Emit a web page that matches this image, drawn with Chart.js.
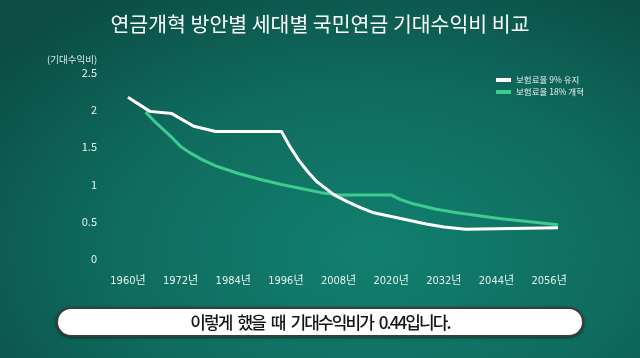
<!DOCTYPE html>
<html>
<head>
<meta charset="utf-8">
<script src="https://cdn.jsdelivr.net/npm/chart.js@4/dist/chart.umd.min.js"></script>
<style>
  html, body { margin: 0; padding: 0; }
  body {
    width: 640px; height: 358px; overflow: hidden; position: relative;
    background: radial-gradient(ellipse 75% 85% at 58% 70%, #12806f 0%, #0f6b5e 55%, #0b4d45 100%);
  }
  #wrap { position: absolute; left: 0; top: 0; width: 640px; height: 358px; }
  #caption {
    position: absolute; left: 56px; top: 307px; width: 524px; height: 26px;
    background: #fff; border: 2px solid #3c3c3c; border-radius: 15px;
    box-shadow: 0 1px 3px rgba(0,0,0,0.5);
    font: 500 17px "Noto Sans CJK KR", sans-serif; letter-spacing: -1.9px; word-spacing: 4px;
    color: #151515; text-align: center; line-height: 26px;
  }
</style>
</head>
<body>
<div id="wrap"><canvas id="chart" width="640" height="358"></canvas></div>
<div id="caption">이렇게 했을 때 기대수익비가 0.44입니다.</div>
<script>
const titleText = '연금개혁 방안별 세대별 국민연금 기대수익비 비교';
const unitText = '(기대수익비)';
const xTicks = [1960, 1972, 1984, 1996, 2008, 2020, 2032, 2044, 2056];
const yTicks = [0, 0.5, 1, 1.5, 2, 2.5];

// 보험료율 9% 유지
const keepYears = [1960, 1965, 1970, 1975, 1980, 1995, 1997, 1999, 2001, 2003, 2005, 2007, 2010, 2013, 2016, 2020, 2024, 2028, 2032, 2037, 2058];
const keepValues = [2.17, 1.98, 1.95, 1.78, 1.71, 1.71, 1.50, 1.32, 1.17, 1.04, 0.95, 0.86, 0.77, 0.69, 0.62, 0.57, 0.52, 0.47, 0.43, 0.40, 0.42];

// 보험료율 18% 개혁
const reformYears = [1964, 1966, 1968, 1970, 1972, 1974, 1977, 1980, 1985, 1990, 1995, 2000, 2004, 2008, 2020, 2022, 2025, 2030, 2035, 2040, 2045, 2050, 2058];
const reformValues = [1.97, 1.85, 1.74, 1.63, 1.51, 1.43, 1.33, 1.25, 1.15, 1.07, 1.00, 0.94, 0.89, 0.86, 0.86, 0.80, 0.74, 0.67, 0.62, 0.58, 0.54, 0.51, 0.46];

const KR = '"Noto Sans CJK KR", sans-serif';

// unit label + legend drawn on top of the chart
const extras = {
  id: 'extras',
  afterDraw(chart) {
    const ctx = chart.ctx;
    ctx.save();
    ctx.textBaseline = 'middle';
    ctx.font = '9.5px ' + KR;
    ctx.fillStyle = '#dbe9e5';
    ctx.fillText(unitText, 47, 59);

    ctx.font = '8.5px ' + KR;
    chart.data.datasets.forEach((ds, i) => {
      const y = 80 + i * 12;
      ctx.fillStyle = ds.borderColor;
      ctx.fillRect(496, y - 2, 15, 4);
      ctx.fillStyle = '#e6f1ee';
      ctx.fillText(ds.label, 516, y);
    });
    ctx.restore();
  }
};

new Chart(document.getElementById('chart'), {
  type: 'line',
  data: {
    datasets: [{
      label: '보험료율 9% 유지',
      data: keepYears.map((x, i) => ({ x, y: keepValues[i] })),
      borderColor: '#ffffff',
      borderWidth: 3,
      pointRadius: 0,
      tension: 0,
      borderJoinStyle: 'round'
    }, {
      label: '보험료율 18% 개혁',
      data: reformYears.map((x, i) => ({ x, y: reformValues[i] })),
      borderColor: '#3fcb8d',
      borderWidth: 3,
      pointRadius: 0,
      tension: 0,
      borderJoinStyle: 'round'
    }]
  },
  options: {
    responsive: false,
    animation: false,
    devicePixelRatio: 1,
    layout: { padding: { left: 47, right: 47, bottom: 69, top: 0 } },
    plugins: {
      legend: { display: false },
      tooltip: { enabled: false },
      title: {
        display: true,
        text: titleText,
        color: '#ffffff',
        font: { family: KR, size: 20.5, weight: '400' },
        padding: { top: 12, bottom: 36 }
      }
    },
    scales: {
      x: {
        type: 'linear',
        min: 1955,
        max: 2066,
        afterBuildTicks: s => { s.ticks = xTicks.map(v => ({ value: v })); },
        afterFit: s => { s.height = 30; },
        grid: { display: false, drawTicks: false },
        border: { display: false },
        ticks: {
          callback: v => v + '년',
          color: '#e6f1ee',
          font: { family: '"Liberation Sans Narrow", "DejaVu Sans Condensed", "Noto Sans CJK KR", sans-serif', size: 11 },
          padding: 16,
          maxRotation: 0,
          autoSkip: false
        }
      },
      y: {
        min: 0,
        max: 2.5,
        afterBuildTicks: s => { s.ticks = yTicks.map(v => ({ value: v })); },
        afterFit: s => { s.width = 59; },
        grid: { display: false, drawTicks: false },
        border: { display: false },
        ticks: {
          callback: v => String(v),
          color: '#e6f1ee',
          font: { family: KR, size: 11 },
          padding: 9
        }
      }
    }
  },
  plugins: [extras]
});
</script>
</body>
</html>
